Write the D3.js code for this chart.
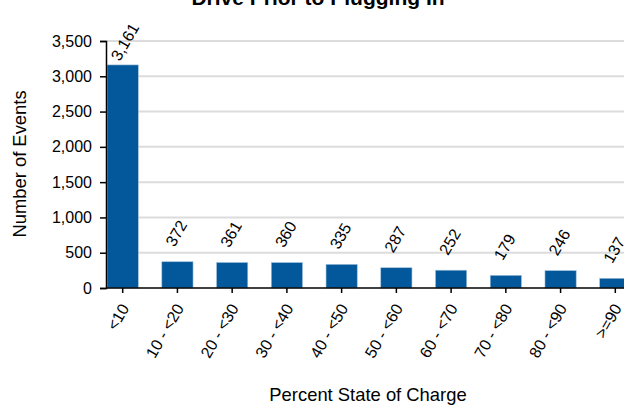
<!DOCTYPE html>
<html>
<head>
<meta charset="utf-8">
<script src="https://cdn.jsdelivr.net/npm/d3@7"></script>
<style>
  body { margin: 0; background: #fff; }
  text { font-family: Arial, "Liberation Sans", sans-serif; fill: #000; }
</style>
</head>
<body>
<div id="chart"></div>
<script>
// chart data
var categories = ['<10', '10 - <20', '20 - <30', '30 - <40', '40 - <50', '50 - <60', '60 - <70', '70 - <80', '80 - <90', '>=90']
var events = [3161, 372, 361, 360, 335, 287, 252, 179, 246, 137]
var yTicks = [0, 500, 1000, 1500, 2000, 2500, 3000, 3500]

var width = 624, height = 406
var mLeft = 106, mRight = 632, mTop = 41, mBottom = 288
var font = 'Arial, "Liberation Sans", sans-serif'

var svg = d3.select('#chart').append('svg')
  .attr('width', width).attr('height', height)

var x = d3.scaleBand().domain(categories).range([mLeft, mRight])
  .paddingInner(0.43).paddingOuter(0.02)
var y = d3.scaleLinear().domain([0, 3500]).range([mBottom, mTop])
var fmt = d3.format(',')

// grid lines
svg.append('g').selectAll('line').data(yTicks.slice(1)).enter()
  .append('line')
  .attr('x1', mLeft).attr('x2', width)
  .attr('y1', function(d) { return y(d) }).attr('y2', function(d) { return y(d) })
  .style('stroke', '#dcdcdc').style('stroke-width', 2)

// bars
svg.append('g').selectAll('rect').data(events).enter()
  .append('rect')
  .attr('x', function(d, i) { return x(categories[i]) })
  .attr('y', function(d) { return y(d) })
  .attr('width', x.bandwidth())
  .attr('height', function(d) { return mBottom - y(d) })
  .style('fill', '#02589a')
  .style('stroke', '#9fbfd9').style('stroke-width', 0.6)

// value labels (pushed down when they would run past the top)
svg.append('g').selectAll('text').data(events).enter()
  .append('text')
  .attr('transform', function(d, i) {
    var ly = Math.max(y(d) - 14, mTop + 21)
    return 'translate(' + (x(categories[i]) + x.bandwidth() / 2 - 3) + ',' + ly + ') rotate(-60)'
  })
  .style('font-size', '16px')
  .text(function(d) { return fmt(d) })

// y axis
var yAxis = svg.append('g').attr('transform', 'translate(' + mLeft + ',0)')
  .call(d3.axisLeft(y).tickValues(yTicks).tickFormat(fmt).tickSizeOuter(0).tickSize(6).tickPadding(8))
yAxis.attr('font-size', 16).attr('font-family', font)
yAxis.selectAll('line, path').style('stroke', '#000').style('stroke-width', 1.5)

// x axis
var xAxis = svg.append('g').attr('transform', 'translate(0,' + mBottom + ')')
  .call(d3.axisBottom(x).tickSizeOuter(0).tickSize(5))
xAxis.attr('font-size', 16).attr('font-family', font)
xAxis.select('.domain').attr('d', 'M' + mLeft + ',0H' + width)
xAxis.selectAll('line, path').style('stroke', '#000').style('stroke-width', 1.5)
xAxis.selectAll('text')
  .attr('text-anchor', 'end')
  .attr('y', 0).attr('dy', 0)
  .attr('transform', 'translate(7,20) rotate(-60)')

// titles
svg.append('text').attr('x', 318).attr('y', 5)
  .attr('text-anchor', 'middle').style('font-size', '21px').style('font-weight', 'bold')
  .text('Drive Prior to Plugging In')

svg.append('text').attr('x', 368).attr('y', 401)
  .attr('text-anchor', 'middle').style('font-size', '18.4px')
  .text('Percent State of Charge')

svg.append('text').attr('transform', 'translate(26,164) rotate(-90)')
  .attr('text-anchor', 'middle').style('font-size', '18.4px')
  .text('Number of Events')
</script>
</body>
</html>
